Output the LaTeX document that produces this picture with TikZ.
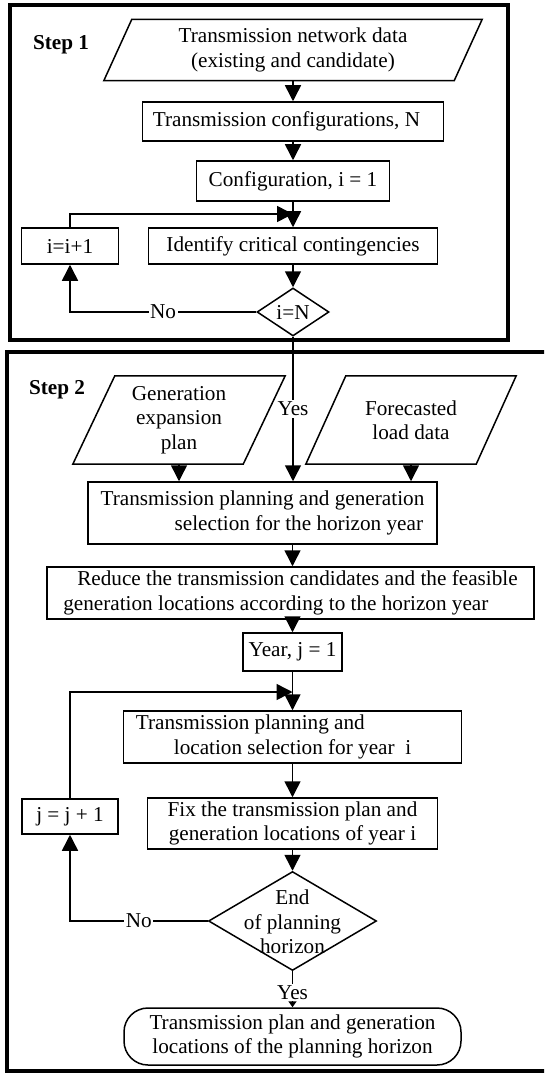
\documentclass[tikz,border=0pt]{standalone}
\usepackage{fontspec}
\setmainfont{Liberation Serif}
\usetikzlibrary{arrows.meta,shapes.geometric,calc}
\begin{document}
\begin{tikzpicture}[x=1pt,y=-1pt,
  font=\fontsize{21.2}{24.5}\selectfont,
  lw/.style={line width=1.5pt},
  box/.style={draw,line width=1.5pt,inner sep=0pt,align=center},
  ghost/.style={inner sep=0pt,align=center},
  dia/.style={draw,diamond,line width=1.5pt,inner sep=0pt},
  arr/.style={line width=1.5pt,-{Triangle[length=16pt,width=16pt]}},
  sarr/.style={line width=1.5pt,-{Triangle[length=6pt,width=8pt]}},
  framebox/.style={line width=3.8pt},
  lbl/.style={fill=white,inner sep=1.5pt},
  steplbl/.style={font=\fontsize{21.2}{24.5}\selectfont\bfseries}
]
\useasboundingbox (0,0) rectangle (544,1075);
\clip (0,0) rectangle (544,1075);
% frames
\draw[framebox] (10,5) rectangle (508,340);
\draw[framebox] (7,352) rectangle (570,1071);

% ---------- Step 1 ----------
\node[steplbl] (s1) at (61,45) {Step 1};
\node[ghost, minimum width=350pt, minimum height=61pt] (p1) at (293,50) {Transmission network data\\(existing and candidate)};
\draw[lw] ([xshift=14pt]p1.north west) -- ([xshift=14pt]p1.north east) -- ([xshift=-14pt]p1.south east) -- ([xshift=-14pt]p1.south west) -- cycle;
\node[box, minimum width=301pt, minimum height=39pt] (nb) at (293,121.5) {Transmission configurations, N\hspace*{13pt}};
\node[box, minimum width=193pt, minimum height=40pt] (cf) at (293,181) {Configuration, i = 1};
\node[box, minimum width=289pt, minimum height=36pt] (idf) at (293,246) {Identify critical contingencies};
\node[box, minimum width=97pt, minimum height=36pt] (inc1) at (70,246) {i=i+1};
\node[dia, minimum width=72pt, minimum height=48pt] (d1) at (293,312) {};
\node[ghost] (d1t) at (d1) {i=N};
\coordinate (m1) at (293,214);

\draw[arr] (p1.south) -- (nb.north);
\draw[arr] (nb.south) -- (cf.north);
\draw[arr] (cf.south) -- (idf.north);
\draw[arr] (idf.south) -- (d1.north);
\draw[arr] (inc1.north) |- (m1);
\draw[arr] (d1.west) -| node[lbl, pos=0.25] (no1) {No} (inc1.south);

% ---------- Step 2 ----------
\node[steplbl] (s2) at (57,390) {Step 2};
\node[ghost, minimum width=170pt, minimum height=88pt] (gp) at (179,420) {Generation\\expansion\\plan};
\draw[lw] ([xshift=21pt]gp.north west) -- ([xshift=21pt]gp.north east) -- ([xshift=-21pt]gp.south east) -- ([xshift=-21pt]gp.south west) -- cycle;
\node[ghost, minimum width=170pt, minimum height=88pt] (fp) at (411,420) {Forecasted\\load data};
\draw[lw] ([xshift=20pt]fp.north west) -- ([xshift=20pt]fp.north east) -- ([xshift=-20pt]fp.south east) -- ([xshift=-20pt]fp.south west) -- cycle;

\node[box, align=left, minimum width=349pt, minimum height=62pt] (tph) at (262.5,513) {Transmission planning and generation\\\hspace*{74pt}selection for the horizon year};
\node[box, align=left, minimum width=487pt, minimum height=52pt] (red) at (290.5,593) {\hspace*{14pt}Reduce the transmission candidates and the feasible\\generation locations according to the horizon year};
\node[box, minimum width=99pt, minimum height=38pt] (yr) at (292.5,652) {Year, j = 1};
\coordinate (m2) at (292.5,692);
\node[box, align=left, minimum width=338pt, minimum height=52pt] (tpy) at (292.5,737) {Transmission planning and\\\hspace*{38pt}location selection for year\ \ i\hspace*{38pt}};
\node[box, minimum width=290pt, minimum height=51pt] (fx) at (292.5,823.5) {Fix the transmission plan and\\generation locations of year i};
\node[box, minimum width=96pt, minimum height=35pt] (jinc) at (70,816.5) {j = j + 1};
\node[dia, minimum width=168pt, minimum height=99pt] (d2) at (292.5,921) {};
\node[ghost] (d2t) at (292.5,922) {End\\of planning\\horizon};
\node[box, rounded corners=24pt, minimum width=337pt, minimum height=57pt] (term) at (292.5,1036.5) {Transmission plan and generation\\locations of the planning horizon};

\draw[arr] (d1.south) -- (d1.south |- tph.north) node[lbl, pos=0.5] (yes1) {Yes};
\draw[arr] (gp.south) -- (gp.south |- tph.north);
\draw[arr] (fp.south) -- (fp.south |- tph.north);
\draw[arr] (tph.south -| yr.north) -- (red.north -| yr.north);
\draw[arr] (red.south -| yr.north) -- (yr.north);
\draw[arr] (yr.south) -- (tpy.north);
\draw[arr] (jinc.north) |- (m2);
\draw[arr] (tpy.south) -- (fx.north);
\draw[arr] (fx.south) -- (d2.north);
\draw[arr] (d2.west) -| node[lbl, pos=0.25] (no2) {No} (jinc.south);
\draw[sarr] (d2.south) -- (term.north) node[lbl, pos=0.6] (yes2) {Yes};
\end{tikzpicture}
\end{document}
